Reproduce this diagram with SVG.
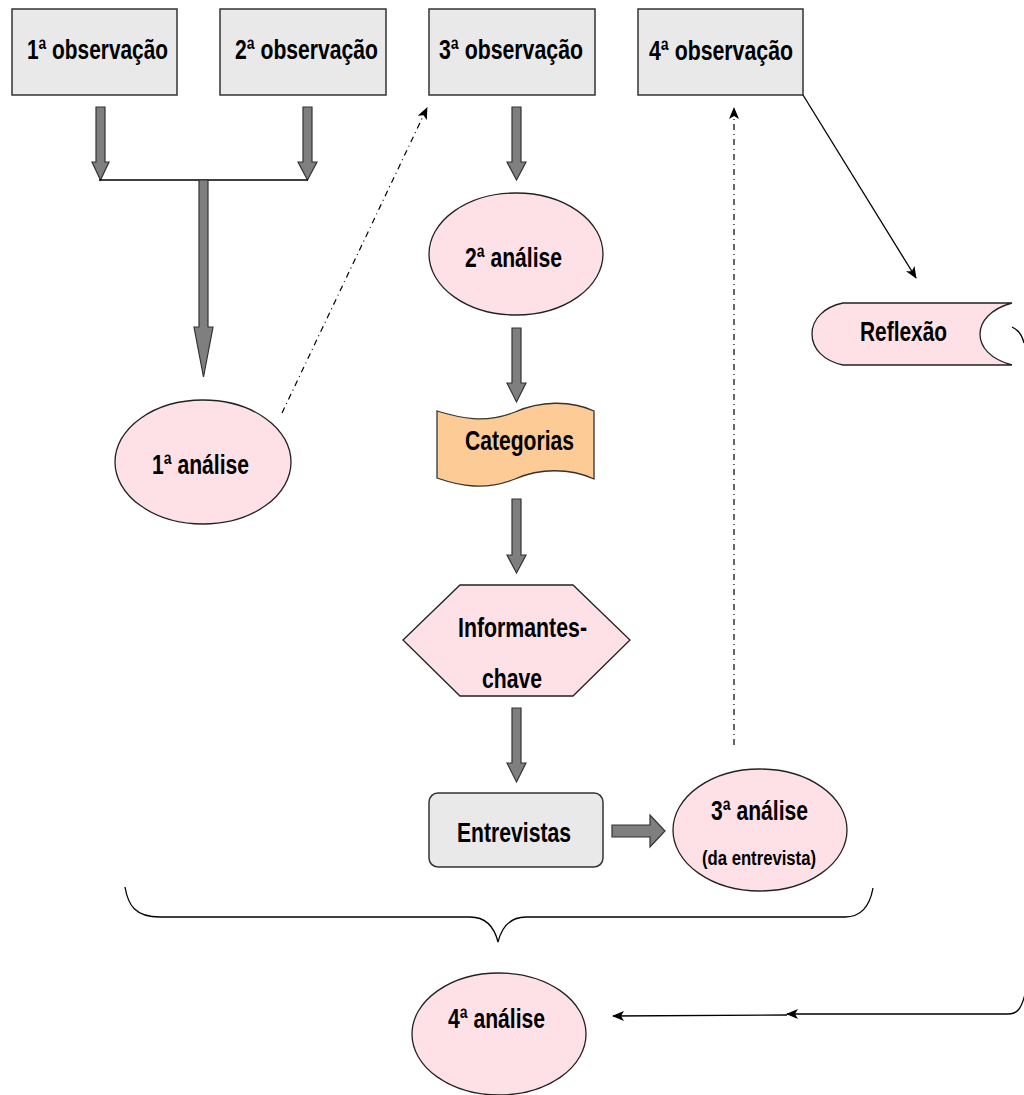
<svg xmlns="http://www.w3.org/2000/svg" width="1024" height="1095" viewBox="0 0 1024 1095">
<defs>
<style>
.box{fill:#e9e9e9;stroke:#333;stroke-width:1.5}
.pink{fill:#fee1e6;stroke:#222;stroke-width:1.3}
.org{fill:#fdcb95;stroke:#333;stroke-width:1.3}
.barr{fill:#7f7f7f;stroke:#333;stroke-width:1.2}
.t{font-family:"Liberation Sans",Arial,sans-serif;font-weight:bold;font-size:28px;fill:#000}
.ts{font-family:"Liberation Sans",Arial,sans-serif;font-weight:bold;font-size:20px;fill:#000}
.ln{fill:none;stroke:#000;stroke-width:1.3}
.dd{fill:none;stroke:#000;stroke-width:1.2;stroke-dasharray:6 4 1 4}
</style>
<marker id="ah" viewBox="0 0 12 10" refX="11" refY="5" markerWidth="12" markerHeight="10" markerUnits="userSpaceOnUse" orient="auto">
<path d="M0,0 L12,5 L0,10 L3,5 Z" fill="#000"/>
</marker>
</defs>
<rect width="1024" height="1095" fill="#fff"/>

<g id="obs1"><rect class="box" x="12" y="9" width="165" height="86"/><text class="t" x="27" y="59" textLength="141" lengthAdjust="spacingAndGlyphs">1ª observação</text></g>
<g id="obs2"><rect class="box" x="220" y="9" width="166" height="86"/><text class="t" x="235" y="59" textLength="143" lengthAdjust="spacingAndGlyphs">2ª observação</text></g>
<g id="obs3"><rect class="box" x="429" y="9" width="166" height="86"/><text class="t" x="439" y="59" textLength="144" lengthAdjust="spacingAndGlyphs">3ª observação</text></g>
<g id="obs4"><rect class="box" x="638" y="9" width="165" height="86"/><text class="t" x="649" y="60" textLength="144" lengthAdjust="spacingAndGlyphs">4ª observação</text></g>

<g id="analise1"><ellipse class="pink" cx="203" cy="462" rx="88" ry="62"/><text class="t" x="152" y="474" textLength="97" lengthAdjust="spacingAndGlyphs">1ª análise</text></g>
<g id="analise2"><ellipse class="pink" cx="516" cy="254" rx="87" ry="61"/><text class="t" x="465" y="267" textLength="97" lengthAdjust="spacingAndGlyphs">2ª análise</text></g>
<g id="reflexao"><path class="pink" d="M843,303 L1012,303 C990,309 980,322 980,334 C980,347 990,359 1012,365 L843,365 C824,361 812,349 812,334 C812,319 824,307 843,303 Z"/><text class="t" x="860" y="341" textLength="87" lengthAdjust="spacingAndGlyphs">Reflexão</text></g>
<g id="categorias"><path class="org" d="M437,411 C460,418 485,424 515,412 C540,401 570,400 594,411 L594,479 C570,468 540,468 515,479 C485,491 460,486 437,478 Z"/><text class="t" x="465" y="450" textLength="109" lengthAdjust="spacingAndGlyphs">Categorias</text></g>
<g id="informantes"><polygon class="pink" points="403,640 460,585 573,585 630,640 573,696 460,696"/><text class="t" x="458" y="637" textLength="129" lengthAdjust="spacingAndGlyphs">Informantes-</text><text class="t" x="482" y="688" textLength="60" lengthAdjust="spacingAndGlyphs">chave</text></g>
<g id="entrevistas"><rect class="box" x="429" y="793" width="174" height="74" rx="9"/><text class="t" x="457" y="842" textLength="114" lengthAdjust="spacingAndGlyphs">Entrevistas</text></g>
<g id="analise3"><ellipse class="pink" cx="760" cy="830" rx="87" ry="61"/><text class="t" x="711" y="820" textLength="97" lengthAdjust="spacingAndGlyphs">3ª análise</text><text class="ts" x="702" y="865" textLength="114" lengthAdjust="spacingAndGlyphs">(da entrevista)</text></g>
<g id="analise4"><ellipse class="pink" cx="499" cy="1034" rx="87" ry="61"/><text class="t" x="448" y="1028" textLength="97" lengthAdjust="spacingAndGlyphs">4ª análise</text></g>

<g id="connectors">
<path class="barr" d="M96,107 H105 V162 H109 L100.5,180 L92,162 H96 Z"/>
<path class="barr" d="M303,107 H312 V162 H317 L307.5,180 L298,162 H303 Z"/>
<line class="ln" x1="99" y1="180" x2="308" y2="180"/>
<path class="barr" d="M199,180 H208 V327 H213 L203.5,377 L194,327 H199 Z"/>
<path class="barr" d="M512,107 H521 V162 H526 L516.5,180 L507,162 H512 Z"/>
<path class="barr" d="M512,328 H521 V383 H526 L516.5,402 L507,383 H512 Z"/>
<path class="barr" d="M512,499 H521 V555 H526 L516.5,573 L507,555 H512 Z"/>
<path class="barr" d="M512,708 H521 V763 H526 L516.5,782 L507,763 H512 Z"/>
<path class="barr" d="M612,825 H650 V815 L665,831 L650,847 V837 H612 Z"/>
<line class="dd" x1="282" y1="413" x2="427" y2="108" marker-end="url(#ah)"/>
<line class="dd" x1="734" y1="745" x2="734" y2="108" marker-end="url(#ah)"/>
<line class="ln" x1="803" y1="95" x2="916" y2="278" marker-end="url(#ah)"/>
<path class="ln" d="M1012,327 Q1021,331 1024,343"/>
<path class="ln" d="M125,887 C128,905 135,917 160,917 L470,917 C488,917 495,930 498,942 C501,930 508,917 526,917 L845,917 C862,917 870,905 873,888"/>
<path class="ln" d="M1026,990 C1022,1008 1018,1014 1008,1014 L787,1014" marker-end="url(#ah)"/>
<line class="ln" x1="787" y1="1015" x2="613" y2="1016" marker-end="url(#ah)"/>
</g>
</svg>
